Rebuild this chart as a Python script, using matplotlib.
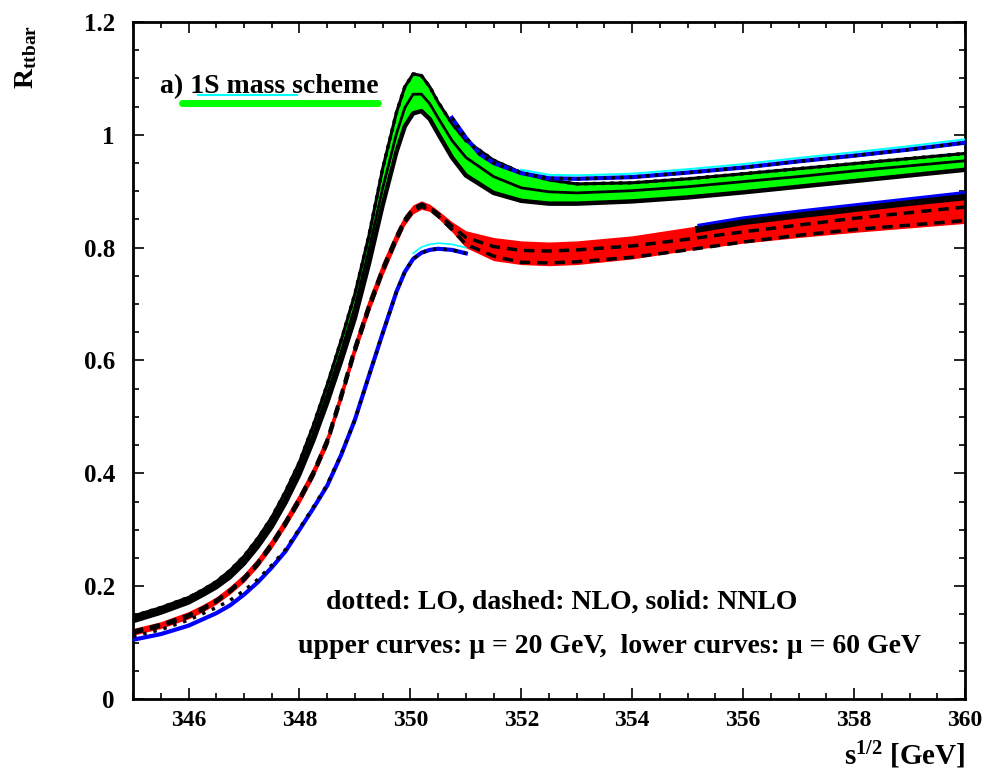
import matplotlib
matplotlib.use("Agg")
import matplotlib.pyplot as plt
from matplotlib.ticker import MultipleLocator
import numpy as np

plt.rcParams['font.family'] = ['Liberation Serif', 'DejaVu Serif']
plt.rcParams['font.weight'] = 'bold'
plt.rcParams['mathtext.fontset'] = 'custom'
plt.rcParams['mathtext.rm'] = 'Liberation Serif:bold'
plt.rcParams['mathtext.bf'] = 'Liberation Serif:bold'
plt.rcParams['mathtext.it'] = 'Liberation Serif:bold'

# sqrt(s) grid in GeV
sqrt_s = [345, 345.5, 346, 346.25, 346.5, 346.75, 347, 347.25, 347.5, 347.75, 348,
          348.25, 348.5, 348.75, 349, 349.25, 349.5, 349.75, 349.9, 350.05, 350.2,
          350.35, 350.5, 350.75, 351, 351.5, 352, 352.5, 353, 354, 355, 356, 357,
          358, 359, 360]

# upper curves, mu = 20 GeV
nnlo20_hi = [0.147, 0.162, 0.180, 0.193, 0.208, 0.228, 0.253, 0.285, 0.322, 0.368, 0.420,
             0.485, 0.557, 0.635, 0.718, 0.820, 0.940, 1.040, 1.085, 1.108, 1.105,
             1.085, 1.058, 1.020, 0.990, 0.955, 0.933, 0.920, 0.913, 0.915, 0.922,
             0.931, 0.940, 0.949, 0.958, 0.967]
nnlo20_mid = [0.143, 0.158, 0.176, 0.189, 0.203, 0.222, 0.246, 0.277, 0.313, 0.357, 0.408,
              0.470, 0.540, 0.615, 0.695, 0.795, 0.905, 1.002, 1.048, 1.072, 1.072,
              1.055, 1.030, 0.990, 0.960, 0.926, 0.906, 0.899, 0.897, 0.901, 0.908,
              0.917, 0.926, 0.936, 0.945, 0.954]
nnlo20_lo = [0.138, 0.153, 0.171, 0.184, 0.198, 0.216, 0.240, 0.270, 0.305, 0.348, 0.398,
             0.458, 0.525, 0.598, 0.675, 0.770, 0.875, 0.970, 1.015, 1.038, 1.042,
             1.028, 1.002, 0.960, 0.928, 0.897, 0.883, 0.878, 0.878, 0.882, 0.889,
             0.898, 0.908, 0.918, 0.928, 0.938]
lo20_tail_x = [350.75, 351, 351.25, 351.5, 352, 352.5, 353, 354, 355, 356, 357, 358, 359, 360]
lo20_tail = [1.030, 0.995, 0.966, 0.950, 0.932, 0.923, 0.922, 0.925, 0.933, 0.942,
             0.953, 0.963, 0.974, 0.986]

# lower curves, mu = 60 GeV
band60_hi = [0.125, 0.137, 0.155, 0.167, 0.181, 0.200, 0.222, 0.250, 0.284, 0.323, 0.365,
             0.412, 0.470, 0.550, 0.635, 0.710, 0.775, 0.830, 0.858, 0.876, 0.883,
             0.877, 0.866, 0.846, 0.830, 0.818, 0.812, 0.810, 0.812, 0.821, 0.836,
             0.850, 0.862, 0.874, 0.886, 0.897]
band60_lo = [0.113, 0.125, 0.142, 0.154, 0.168, 0.186, 0.207, 0.234, 0.267, 0.305, 0.346,
             0.392, 0.448, 0.527, 0.610, 0.684, 0.750, 0.808, 0.840, 0.860, 0.868,
             0.864, 0.852, 0.828, 0.800, 0.777, 0.770, 0.768, 0.770, 0.780, 0.795,
             0.808, 0.818, 0.827, 0.835, 0.843]
nlo60_a = [0.120, 0.132, 0.149, 0.161, 0.175, 0.193, 0.215, 0.242, 0.276, 0.314, 0.356,
           0.402, 0.459, 0.539, 0.623, 0.697, 0.763, 0.820, 0.850, 0.869, 0.877,
           0.871, 0.860, 0.838, 0.818, 0.802, 0.795, 0.794, 0.796, 0.803, 0.815,
           0.828, 0.840, 0.852, 0.862, 0.872]
nlo60_b = [0.117, 0.129, 0.146, 0.158, 0.172, 0.190, 0.211, 0.238, 0.271, 0.309, 0.351,
           0.397, 0.453, 0.532, 0.616, 0.690, 0.757, 0.814, 0.845, 0.865, 0.873,
           0.868, 0.856, 0.832, 0.806, 0.785, 0.774, 0.773, 0.775, 0.783, 0.796,
           0.810, 0.822, 0.832, 0.840, 0.848]
lo60_x = [345, 345.5, 346, 346.5, 346.75, 347, 347.25, 347.5, 347.75, 348, 348.25, 348.5,
          348.75, 349, 349.25, 349.5, 349.75, 349.9, 350.05, 350.2, 350.35, 350.5,
          350.75, 351]
lo60 = [0.105, 0.115, 0.130, 0.152, 0.166, 0.185, 0.207, 0.233, 0.262, 0.300, 0.338,
        0.378, 0.432, 0.495, 0.572, 0.648, 0.722, 0.757, 0.780, 0.791, 0.796, 0.798,
        0.796, 0.790]
lo60_dot = [0.111, 0.123, 0.140, 0.162, 0.175, 0.192, 0.212, 0.237, 0.265, 0.302, 0.340,
            0.380, 0.433, 0.495, 0.572, 0.648, 0.722, 0.757, 0.780, 0.791, 0.796, 0.798,
            0.796, 0.790]
nnlo60_x = [355.2, 356, 357, 358, 359, 360]
nnlo60 = [0.833, 0.846, 0.858, 0.869, 0.880, 0.890]
nnlo60_top = [0.840, 0.853, 0.865, 0.876, 0.887, 0.898]

fig = plt.figure(figsize=(9.87, 7.77), dpi=100)
ax = fig.add_axes([0.1348, 0.1004, 0.8429, 0.8713])

# mu = 20 GeV band and lines
ax.fill_between(sqrt_s, nnlo20_lo, nnlo20_hi, color='#00ff00', lw=0, zorder=2)
ax.plot(sqrt_s, nnlo20_hi, color='black', lw=2.2, zorder=3)
ax.plot(sqrt_s, nnlo20_mid, color='black', lw=2.0, zorder=3)
ax.plot(sqrt_s, nnlo20_lo, color='black', lw=3.2, zorder=3)
ax.plot(sqrt_s, nnlo20_hi, color='black', lw=2.5, ls=(0, (1, 1.5)), zorder=4)
ax.plot(lo20_tail_x[4:], np.array(lo20_tail[4:]) + 0.006, color='#00ffff', lw=1.5, zorder=3)
ax.plot(lo20_tail_x, lo20_tail, color='#0000ff', lw=3.0, zorder=4)
ax.plot(lo20_tail_x, lo20_tail, color='black', lw=2.5, ls=(0, (1, 1.5)), zorder=5)

# mu = 60 GeV band and lines
ax.fill_between(sqrt_s, band60_lo, band60_hi, color='#ff0000', lw=0, zorder=2)
ax.plot(sqrt_s, nlo60_a, color='black', lw=2.5, ls=(0, (3, 2)), zorder=4)
ax.plot(sqrt_s, nlo60_b, color='black', lw=2.5, ls=(0, (3, 2)), zorder=4)
ax.plot(nnlo60_x, nnlo60, color='black', lw=5, zorder=3)
ax.plot(nnlo60_x, nnlo60_top, color='#0000ff', lw=2.0, zorder=3)
ax.plot(lo60_x, lo60, color='#0000ff', lw=3.0, zorder=3)
ax.plot(lo60_x[-6:], np.array(lo60[-6:]) + 0.01, color='#00ffff', lw=1.2, zorder=3)
ax.plot(lo60_x, lo60_dot, color='black', lw=2.5, ls=(0, (1, 2)), zorder=4)

ax.set_xlim(345, 360)
ax.set_ylim(0, 1.2)
ax.xaxis.set_minor_locator(MultipleLocator(0.5))
ax.yaxis.set_minor_locator(MultipleLocator(0.05))
ax.tick_params(which='both', direction='in', top=True, right=True, width=1.2)
ax.tick_params(which='major', length=8)
ax.tick_params(which='minor', length=4)
ax.tick_params(axis='x', which='major', labelsize=17, pad=8)
ax.tick_params(axis='y', which='major', labelsize=18, pad=13)
ax.set_xticks([346, 348, 350, 352, 354, 356, 358, 360])
ax.set_xticklabels(['346', '348', '350', '352', '354', '356', '358', '360'])
ax.set_yticks([0, 0.2, 0.4, 0.6, 0.8, 1.0, 1.2])
ax.set_yticklabels(['0', '0.2', '0.4', '0.6', '0.8', '1', '1.2'])
for sp in ax.spines.values():
    sp.set_linewidth(2)

fig.text(0.026, 0.968, r'$\mathrm{R_{ttbar}}$', rotation=90, ha='center', va='top', fontsize=20)
fig.text(0.978, 0.008, r'$\mathrm{s^{1/2}}$ [GeV]', ha='right', va='bottom', fontsize=21)

ax.text(0.032, 0.905, 'a) 1S mass scheme', transform=ax.transAxes, fontsize=20,
        fontweight='bold', ha='left', va='center')
ax.plot([0.059, 0.294], [0.880, 0.880], transform=ax.transAxes, color='#00ff00', lw=5,
        solid_capstyle='round')
ax.plot([0.078, 0.197], [0.892, 0.892], transform=ax.transAxes, color='#00ffff', lw=1.5)

ax.text(0.232, 0.143, 'dotted: LO, dashed: NLO, solid: NNLO', transform=ax.transAxes,
        fontsize=20, fontweight='bold', ha='left', va='center')
ax.text(0.198, 0.078, u'upper curves: \u03bc = 20 GeV,  lower curves: \u03bc = 60 GeV',
        transform=ax.transAxes, fontsize=20, fontweight='bold', ha='left', va='center')

fig.savefig('out.png', dpi=100, facecolor='white')
